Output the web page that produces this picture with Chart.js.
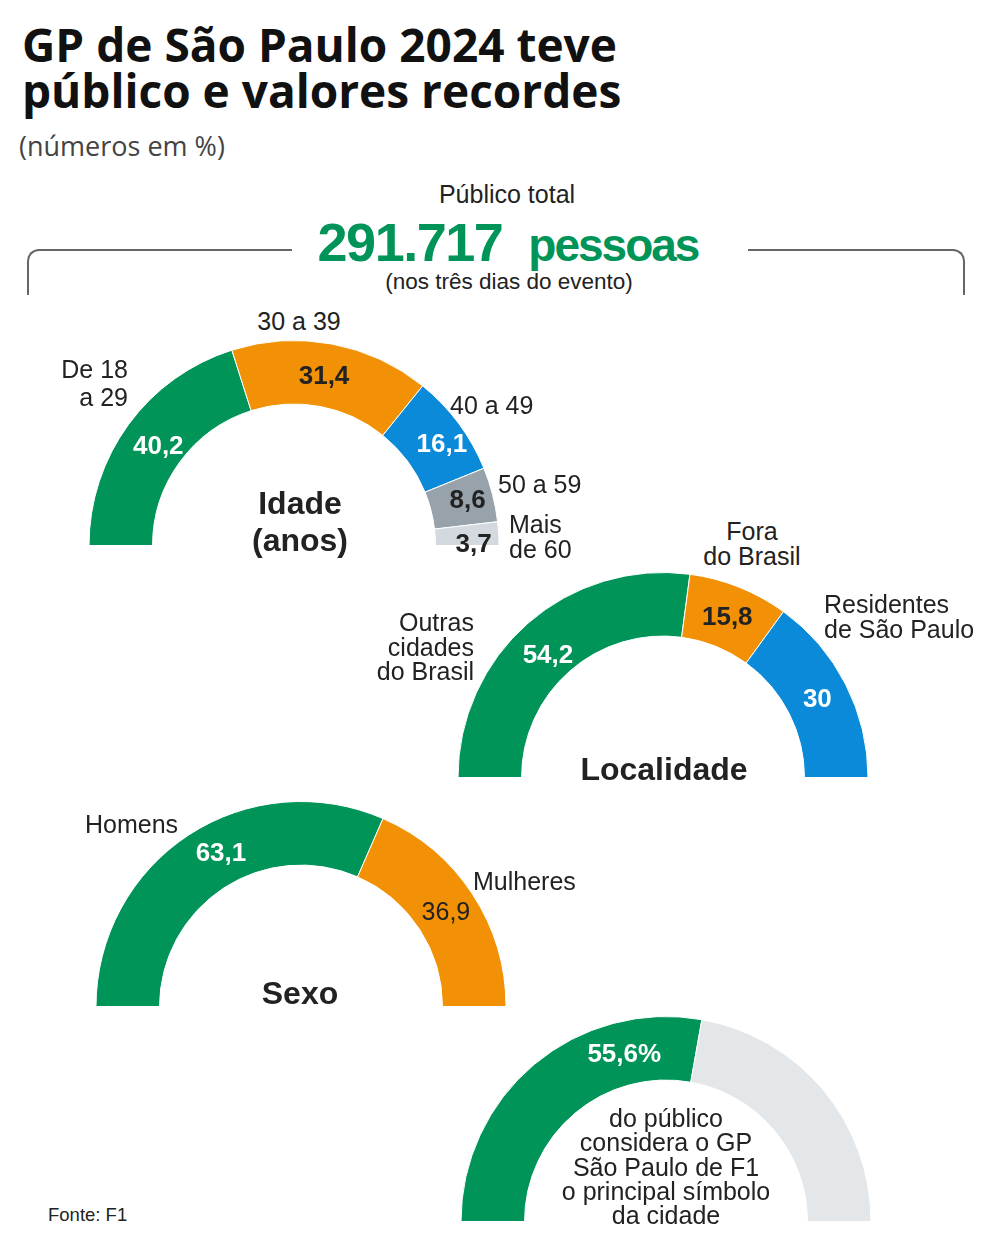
<!DOCTYPE html>
<html>
<head>
<meta charset="utf-8">
<script src="https://cdn.jsdelivr.net/npm/chart.js@4.4.1/dist/chart.umd.min.js"></script>
<style>
  body { margin: 0; background: #fff; }
  #page { position: relative; width: 984px; height: 1241px; overflow: hidden;
          font-family: "Liberation Sans", Arial, sans-serif; color: #222; }
  .t { position: absolute; white-space: nowrap; font-size: 25px; line-height: 25px; }
  .c { transform: translateX(-50%); text-align: center; }
  .r { transform: translateX(-100%); text-align: right; }
  .b { font-weight: bold; font-size: 32px; line-height: 37px; }
  canvas { position: absolute; }
  .title { position: absolute; left: 22px; top: 21px; font-family: "Open Sans", sans-serif;
           font-weight: bold; font-size: 46px; line-height: 46px; color: #111; }
  .sub { position: absolute; left: 19px; top: 128px; font-family: "Open Sans", sans-serif;
         font-size: 27px; line-height: 36px; color: #444; }
  .brk { position: absolute; top: 249px; height: 44px; border-top: 2px solid #666; }
</style>
</head>
<body>
<div id="page">
  <div class="title">GP de São Paulo 2024 teve<br>público e valores recordes</div>
  <div class="sub">(números em %)</div>

  <div class="brk" style="left:27px;width:263px;border-left:2px solid #666;border-top-left-radius:12px;"></div>
  <div class="brk" style="left:748px;width:215px;border-right:2px solid #666;border-top-right-radius:12px;"></div>
  <div class="t c" style="left:507px;top:182px;">Público total</div>
  <div class="t c" style="left:508px;top:212px;line-height:60px;color:#009459;font-weight:bold;">
    <span style="font-size:54px;letter-spacing:-1.5px;">291.717</span><span style="font-size:46px;letter-spacing:-2px;margin-left:26px;">pessoas</span></div>
  <div class="t c" style="left:509px;top:269px;font-size:22.5px;">(nos três dias do evento)</div>

  <canvas id="idade" width="412" height="226" style="left:88px;top:340px;"></canvas>
  <canvas id="local" width="412" height="206" style="left:457px;top:572px;"></canvas>
  <canvas id="sexo" width="412" height="206" style="left:95px;top:801px;"></canvas>
  <canvas id="simbolo" width="412" height="206" style="left:460px;top:1016px;"></canvas>

  <!-- Idade -->
  <div class="t r" style="left:128px;top:355px;line-height:28px;">De 18<br>a 29</div>
  <div class="t c" style="left:299px;top:309px;">30 a 39</div>
  <div class="t" style="left:450px;top:393px;">40 a 49</div>
  <div class="t" style="left:498px;top:472px;">50 a 59</div>
  <div class="t" style="left:509px;top:512px;">Mais<br>de 60</div>
  <div class="t c b" style="left:300px;top:485px;">Idade<br>(anos)</div>

  <!-- Localidade -->
  <div class="t c" style="left:752px;top:519px;">Fora<br>do Brasil</div>
  <div class="t" style="left:824px;top:592px;">Residentes<br>de São Paulo</div>
  <div class="t r" style="left:474px;top:610px;line-height:24.5px;">Outras<br>cidades<br>do Brasil</div>
  <div class="t c b" style="left:664px;top:751px;">Localidade</div>

  <!-- Sexo -->
  <div class="t" style="left:85px;top:812px;">Homens</div>
  <div class="t" style="left:473px;top:869px;">Mulheres</div>
  <div class="t c b" style="left:300px;top:975px;">Sexo</div>

  <!-- Símbolo -->
  <div class="t c" style="left:666px;top:1106px;line-height:24.3px;">do público<br>considera o GP<br>São Paulo de F1<br>o principal símbolo<br>da cidade</div>
  <div class="t" style="left:48px;top:1205px;font-size:18.5px;line-height:20px;">Fonte: F1</div>
</div>

<script>
const idadeLabels = ['De 18 a 29', '30 a 39', '40 a 49', '50 a 59', 'Mais de 60'];
const idadeValues = [40.2, 31.4, 16.1, 8.6, 3.7];

const localLabels = ['Outras cidades do Brasil', 'Fora do Brasil', 'Residentes de São Paulo'];
const localValues = [54.2, 15.8, 30];

const sexoLabels = ['Homens', 'Mulheres'];
const sexoValues = [63.1, 36.9];

const simboloLabels = ['Considera o GP o principal símbolo', 'Demais'];
const simboloValues = [55.6, 44.4];

const GREEN  = '#009459';
const ORANGE = '#f29106';
const BLUE   = '#0a8ad8';
const GRAY   = '#98a2aa';
const LIGHT  = '#d3d9de';
const PALE   = '#e3e7ea';

const BOLD = 'bold 26px "Liberation Sans", Arial, sans-serif';
const REG  = '25px "Liberation Sans", Arial, sans-serif';

const fmt = v => String(v).replace('.', ',');

// draws the value inside each slice: `at` = fraction along the arc, `rf` = fraction across the ring
function valueLabels(cfg) {
  return {
    id: 'valueLabels',
    afterDatasetsDraw(chart) {
      const ctx = chart.ctx;
      const data = chart.data.datasets[0].data;
      chart.getDatasetMeta(0).data.forEach((arc, i) => {
        if (!cfg.colors[i]) return;
        const p = arc.getProps(['x', 'y', 'startAngle', 'endAngle', 'innerRadius', 'outerRadius'], true);
        const f = cfg.at ? cfg.at[i] : 0.5;
        const rf = cfg.rf ? cfg.rf[i] : 0.5;
        const a = p.startAngle + (p.endAngle - p.startAngle) * f;
        const r = p.innerRadius + (p.outerRadius - p.innerRadius) * rf;
        ctx.save();
        ctx.font = cfg.fonts ? cfg.fonts[i] : BOLD;
        ctx.fillStyle = cfg.colors[i];
        ctx.textAlign = 'center';
        ctx.textBaseline = 'middle';
        ctx.fillText(fmt(data[i]) + (cfg.suffix || ''), p.x + Math.cos(a) * r, p.y + Math.sin(a) * r + 1);
        ctx.restore();
      });
    }
  };
}

function halfDonut(id, labels, values, colors, labelCfg, padBottom) {
  new Chart(document.getElementById(id), {
    type: 'doughnut',
    data: {
      labels: labels,
      datasets: [{
        data: values,
        backgroundColor: colors,
        borderColor: '#fff',
        borderWidth: 1,
      }]
    },
    options: {
      responsive: false,
      animation: false,
      rotation: -90,
      circumference: 180,
      cutout: '69%',
      layout: { padding: { bottom: padBottom || 0 } },
      plugins: {
        legend: { display: false },
        tooltip: { enabled: false }
      }
    },
    plugins: [valueLabels(labelCfg)]
  });
}

halfDonut('idade', idadeLabels, idadeValues, [GREEN, ORANGE, BLUE, GRAY, LIGHT],
  { colors: ['#fff', '#222', '#fff', '#222', '#222'],
    at: [0.5, 0.49, 0.57, 0.47, 0.9], rf: [0.42, 0.48, 0.6, 0.6, 0.6] }, 20);

halfDonut('local', localLabels, localValues, [GREEN, ORANGE, BLUE],
  { colors: ['#fff', '#222', '#fff'], at: [0.48, 0.5, 0.5], rf: [0.42, 0.5, 0.5] });

halfDonut('sexo', sexoLabels, sexoValues, [GREEN, ORANGE],
  { colors: ['#fff', '#222'], fonts: [BOLD, REG], at: [0.55, 0.5] });

halfDonut('simbolo', simboloLabels, simboloValues, [GREEN, PALE],
  { colors: ['#fff', null], at: [0.76, 0.5], suffix: '%' });
</script>
</body>
</html>
